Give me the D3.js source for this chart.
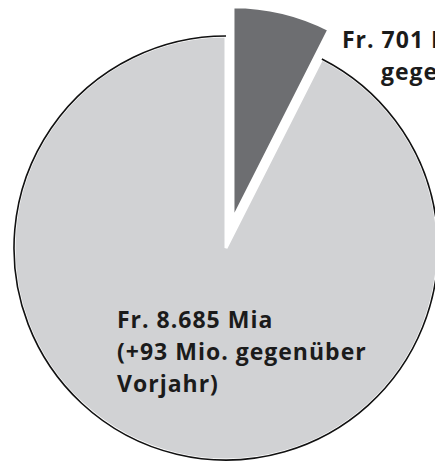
<!DOCTYPE html>
<html>
<head>
<meta charset="utf-8">
<script src="https://cdn.jsdelivr.net/npm/d3@7"></script>
<style>
  body { margin: 0; background: #fff; }
  svg text { font-family: "Open Sans", Lato, sans-serif; font-weight: 700; fill: #1b1b1b; letter-spacing: 1px; }
</style>
</head>
<body>
<svg width="435" height="461"></svg>
<script>
// Mio. Fr.
var labels = ['Fr. 701 Mio.', 'Fr. 8.685 Mia'];
var values = [701, 8685];
var colors = ['#6d6e71', '#d1d2d4'];
var labelLines = [
    ['Fr. 701 Mio.', 'gegenüber'],
    ['Fr. 8.685 Mia', '(+93 Mio. gegenüber', 'Vorjahr)']
];

var cx = 226, cy = 248, r = 212;
var explode = 30;

var svg = d3.select('svg');
var g = svg.append('g')
    .attr('transform', 'translate(' + cx + ',' + cy + ')');

var pie = d3.pie().sort(null).value(function(d){ return d; });
var arcs = pie(values);

var arc = d3.arc().innerRadius(0).outerRadius(r);

// big slice
var big = arcs[1];
g.append('path')
    .attr('d', arc(big))
    .attr('fill', colors[1])
    .attr('stroke', '#fff')
    .attr('stroke-width', 3);

// black outline on the outer arc only
var p = d3.path();
p.arc(0, 0, r, big.startAngle - Math.PI / 2, big.endAngle - Math.PI / 2);
g.append('path')
    .attr('d', p.toString())
    .attr('fill', 'none')
    .attr('stroke', '#111')
    .attr('stroke-width', 1.6);

// small slice, pulled out along its bisector
var small = arcs[0];
var mid = (small.startAngle + small.endAngle) / 2;
g.append('path')
    .attr('d', arc(small))
    .attr('transform', 'translate(' + (explode * Math.sin(mid)) + ',' + (-explode * Math.cos(mid)) + ')')
    .attr('fill', colors[0])
    .attr('stroke', '#fff')
    .attr('stroke-width', 3);

// labels
var smallLabel = svg.append('text').attr('font-size', 23);
smallLabel.append('tspan').attr('x', 342).attr('y', 48).text(labelLines[0][0]);
smallLabel.append('tspan').attr('x', 381).attr('y', 80).text(labelLines[0][1]);

var bigLabel = svg.append('text').attr('font-size', 23);
labelLines[1].forEach(function(t, i){
    bigLabel.append('tspan')
        .attr('x', 117)
        .attr('y', 328 + i * 32)
        .text(t);
});
</script>
</body>
</html>
